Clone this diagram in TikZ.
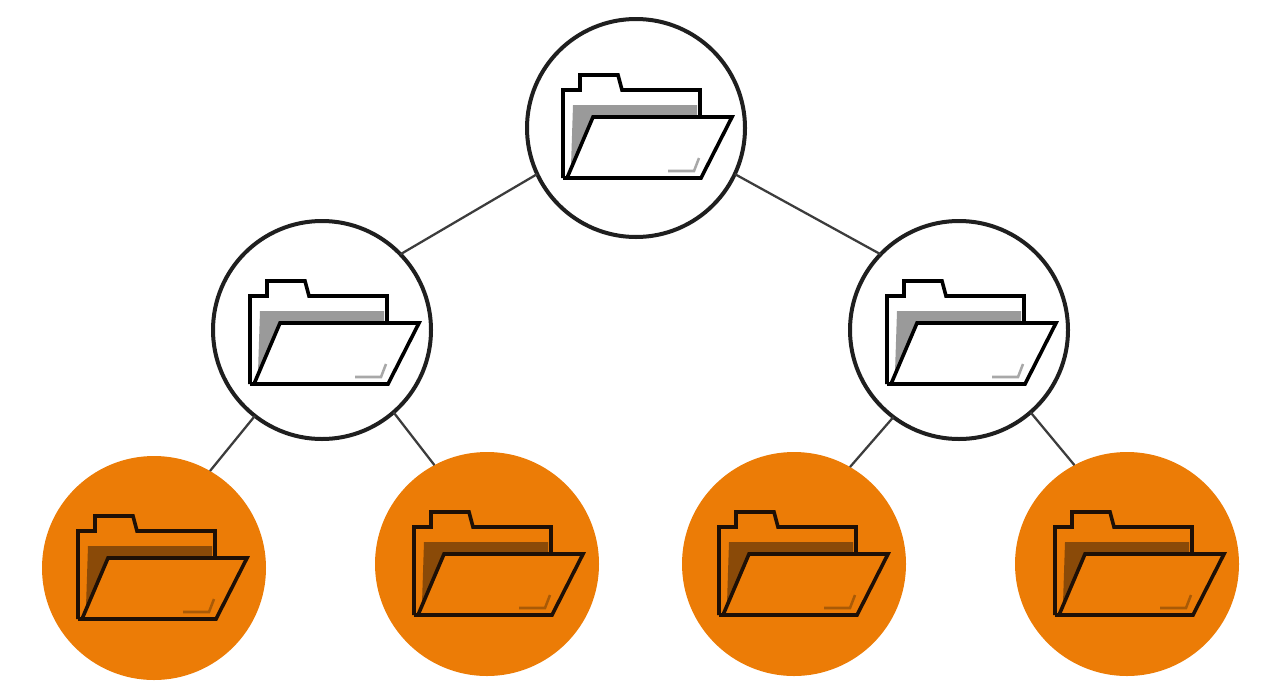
\documentclass[tikz,border=0pt]{standalone}
\definecolor{orangeN}{HTML}{EC7C06}
\definecolor{shadeO}{HTML}{8A4A08}
\definecolor{lineO}{HTML}{1E1006}
\definecolor{shadeW}{HTML}{9A9A9A}
\definecolor{markW}{HTML}{A8A8A8}
\definecolor{markO}{HTML}{A95A06}
\definecolor{edgeC}{HTML}{3C3C3C}
\tikzset{
  x=0.75pt,y=-0.75pt,
  whitenode/.style={circle,draw=black!88,line width=3pt,fill=white,minimum size=218*0.75pt,inner sep=0pt,outer sep=0pt},
  orangenode/.style={circle,fill=orangeN,minimum size=224*0.75pt,inner sep=0pt,outer sep=0pt},
  link/.style={draw=edgeC,line width=1.7pt},
  pics/folder/.style n args={3}{code={
    \fill[#2] (-63,-23) -- (61,-23) -- (61,-12) -- (-43,-12) -- (-65,38) -- cycle;
    \draw[#1,line width=2.7pt,line join=miter]
      (-73,50) -- (-73,-38) -- (-56,-38) -- (-56,-53) -- (-18,-53) -- (-14,-38) -- (64,-38) -- (64,-12);
    \draw[#1,line width=2.7pt,line join=miter]
      (-73,50) -- (-69,50) -- (-43,-11) -- (96,-11) -- (65,50) -- cycle;
    \draw[#3,line width=1.9pt] (32,43) -- (58,43) -- (63,30);
  }}
}
\begin{document}
\begin{tikzpicture}
\useasboundingbox (0,0) rectangle (1280,693);
\fill[white] (0,0) rectangle (1280,693);
\node[whitenode] (root) at (636,128) {};
\node[whitenode] (midL) at (322,330) {};
\node[whitenode] (midR) at (959,330) {};
\node[orangenode] (leafA) at (154,568) {};
\node[orangenode] (leafB) at (487,564) {};
\node[orangenode] (leafC) at (794,564) {};
\node[orangenode] (leafD) at (1127,564) {};
\draw[link] (root.205) -- (midL.44);
\draw[link] (root.-25) -- (midR.136);
\draw[link] (midL.-128) -- (leafA.60);
\draw[link] (midL.-49) -- (leafB.118);
\draw[link] (midR.-127) -- (leafC.60);
\draw[link] (midR.-49) -- (leafD.118);
\pic at (636,128) {folder={black}{shadeW}{markW}};
\pic at (323,334) {folder={black}{shadeW}{markW}};
\pic at (960,334) {folder={black}{shadeW}{markW}};
\pic at (151,569) {folder={lineO}{shadeO}{markO}};
\pic at (487,565) {folder={lineO}{shadeO}{markO}};
\pic at (792,565) {folder={lineO}{shadeO}{markO}};
\pic at (1128,565) {folder={lineO}{shadeO}{markO}};
\end{tikzpicture}
\end{document}
